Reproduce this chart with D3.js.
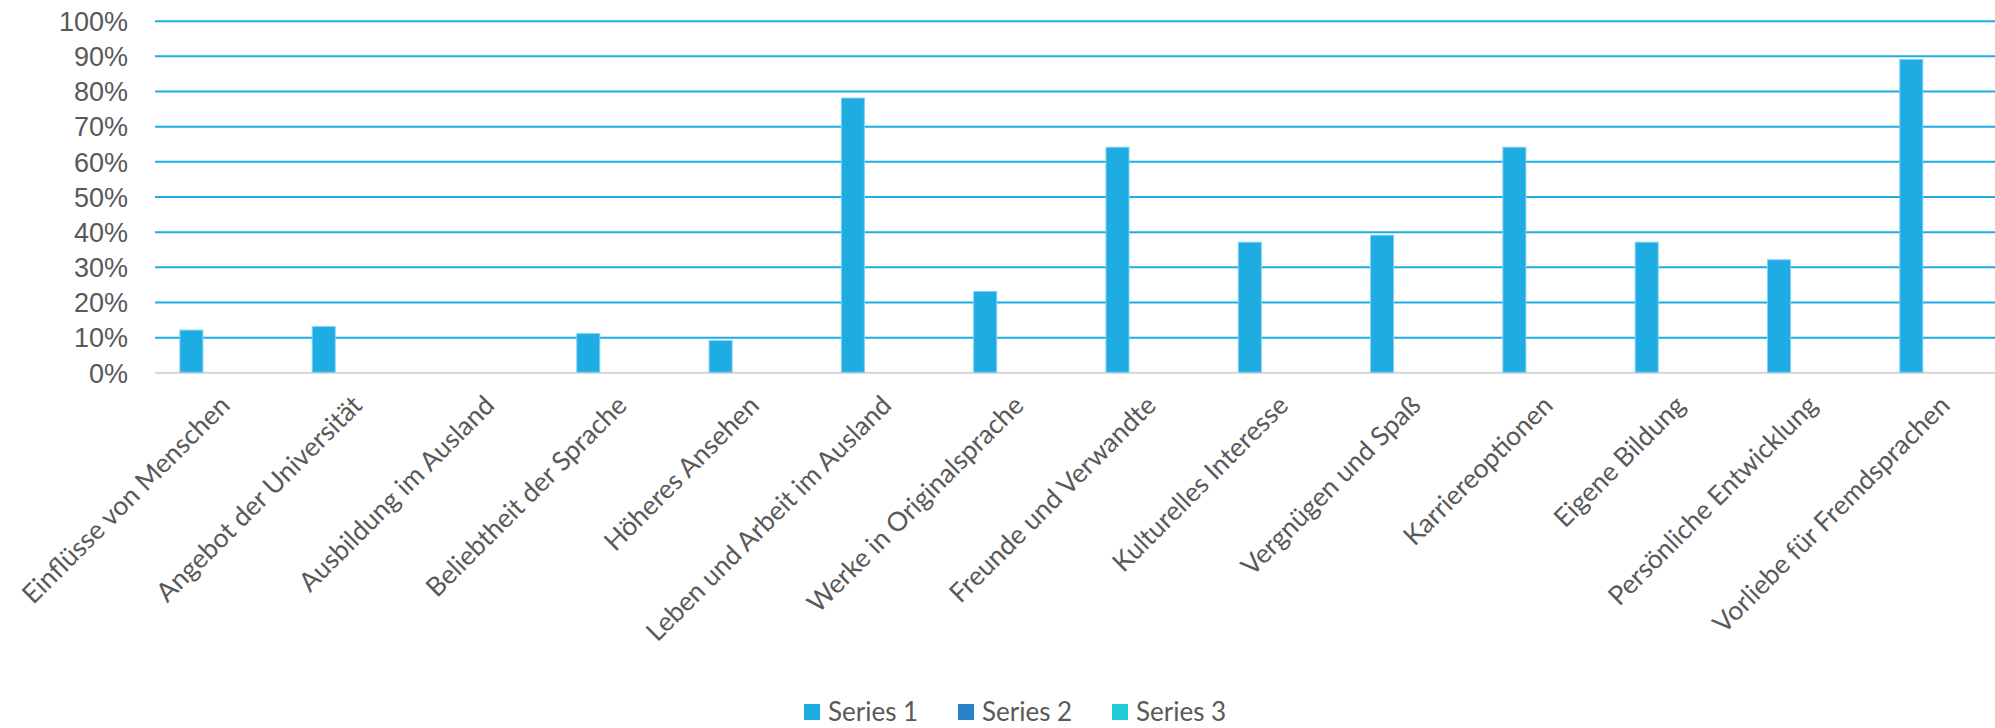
<!DOCTYPE html>
<html>
<head>
<meta charset="utf-8">
<script src="https://cdn.jsdelivr.net/npm/d3@7"></script>
<style>
  body { margin: 0; background: #fff; }
  svg { display: block; font-family: Lato, "Open Sans", sans-serif; }
</style>
</head>
<body>
<svg width="1995" height="728"></svg>
<script>
"use strict";

// categories (x axis)
const categories = [
  "Einflüsse von Menschen",
  "Angebot der Universität",
  "Ausbildung im Ausland",
  "Beliebtheit der Sprache",
  "Höheres Ansehen",
  "Leben und Arbeit im Ausland",
  "Werke in Originalsprache",
  "Freunde und Verwandte",
  "Kulturelles Interesse",
  "Vergnügen und Spaß",
  "Karriereoptionen",
  "Eigene Bildung",
  "Persönliche Entwicklung",
  "Vorliebe für Fremdsprachen"
];

// series values (fraction)
const series1 = [0.12, 0.13, 0, 0.11, 0.09, 0.78, 0.23, 0.64, 0.37, 0.39, 0.64, 0.37, 0.32, 0.89];
const series2 = [0, 0, 0, 0, 0, 0, 0, 0, 0, 0, 0, 0, 0, 0];
const series3 = [0, 0, 0, 0, 0, 0, 0, 0, 0, 0, 0, 0, 0, 0];

const seriesNames = ["Series 1", "Series 2", "Series 3"];
const seriesColors = ["#1eace3", "#2882c8", "#25cbd7"];
const yTicks = [0, 0.1, 0.2, 0.3, 0.4, 0.5, 0.6, 0.7, 0.8, 0.9, 1.0];

const allSeries = [series1, series2, series3];

const svg = d3.select("svg");
const W = 1995;
const textColor = "#595959";

// 축 스케일
const y = d3.scaleLinear().domain([0, 1]).range([372.3, 20.7]);
const x = d3.scaleBand().domain(categories).range([148.3, 148.3 + 132.3 * 14]);
const xs = d3.scaleBand().domain(seriesNames).range([31.6, 31.6 + 69]);

const gridLeft = 155;

// gridlines + y labels
const yAxis = svg.append("g")
  .attr("transform", `translate(${gridLeft},0)`)
  .call(d3.axisLeft(y).tickValues(yTicks).tickSize(-(W - gridLeft)).tickPadding(27)
    .tickFormat(d3.format(".0%")));
yAxis.select(".domain").remove();
yAxis.selectAll(".tick line")
  .attr("stroke", d => d === 0 ? "#d9d9d9" : "#1eace3")
  .attr("stroke-width", d => d === 0 ? 2.2 : 2);
yAxis.selectAll(".tick text")
  .attr("fill", textColor)
  .style("font-size", "27px")
  .attr("dy", "0.36em");

// bars
const barData = [];
allSeries.forEach((vals, si) => {
  vals.forEach((v, ci) => barData.push({ cat: categories[ci], s: seriesNames[si], v: v, color: seriesColors[si] }));
});

svg.append("g")
  .selectAll("rect")
  .data(barData.filter(d => d.v > 0))
  .enter()
  .append("rect")
  .attr("x", d => x(d.cat) + xs(d.s))
  .attr("width", xs.bandwidth())
  .attr("y", d => y(d.v))
  .attr("height", d => y(0) - y(d.v))
  .attr("fill", d => d.color)
  .attr("stroke", "#7fd0ee")
  .attr("stroke-width", 1);

// x labels, rotated
svg.append("g")
  .selectAll("text")
  .data(categories)
  .enter()
  .append("text")
  .attr("transform", d => `translate(${x(d) + x.bandwidth() / 2 + 3},${393}) rotate(-45)`)
  .attr("text-anchor", "end")
  .attr("dy", "0.75em")
  .attr("fill", textColor)
  .style("font-size", "26.5px")
  .text(d => d);

// legend
const legend = svg.append("g")
  .selectAll("g")
  .data(seriesNames)
  .enter()
  .append("g")
  .attr("transform", (d, i) => `translate(${804 + i * 154},704)`);
legend.append("rect")
  .attr("width", 16).attr("height", 16)
  .attr("fill", (d, i) => seriesColors[i]);
legend.append("text")
  .attr("x", 24).attr("y", 17)
  .attr("fill", textColor)
  .style("font-size", "26px")
  .text(d => d);
</script>
</body>
</html>
